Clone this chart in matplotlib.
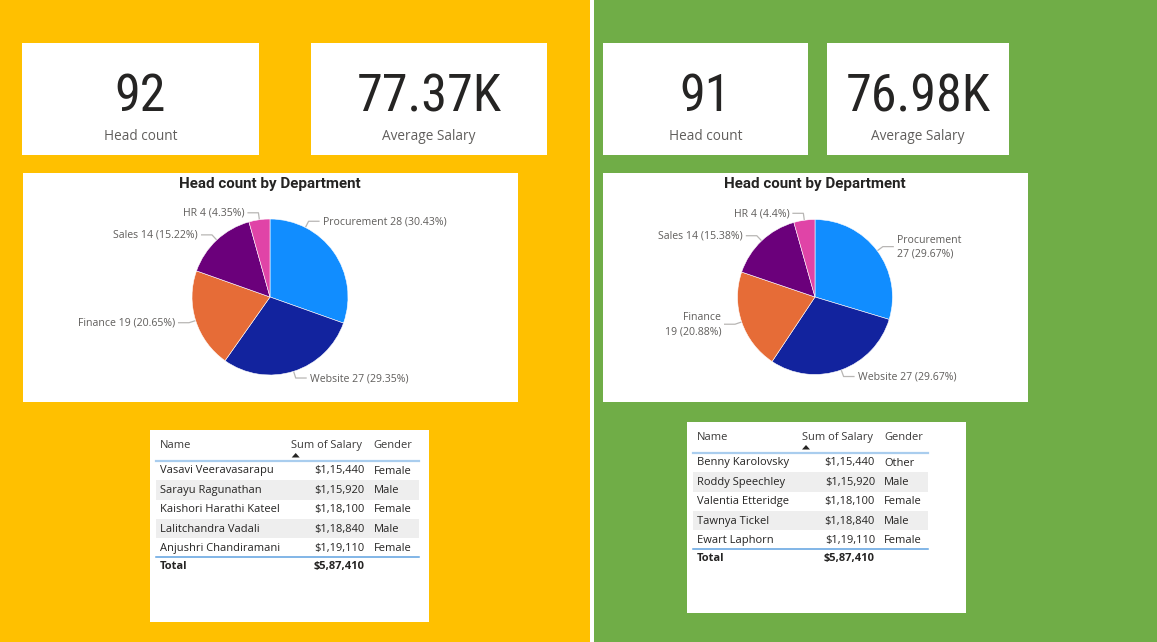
import matplotlib
matplotlib.use('Agg')
import matplotlib.pyplot as plt
from matplotlib import font_manager
from matplotlib.patches import Rectangle, Polygon
import numpy as np

W, H = 1157, 642

# ---------------- data ----------------
departments = ['Procurement', 'Website', 'Finance', 'Sales', 'HR']
dept_colors = ['#118DFF', '#12239E', '#E66C37', '#6B007B', '#E044A7']
left_counts = [28, 27, 19, 14, 4]
right_counts = [27, 27, 19, 14, 4]

left_head_count = 92
right_head_count = 91
left_avg_salary = '77.37K'
right_avg_salary = '76.98K'

left_names = ['Vasavi Veeravasarapu', 'Sarayu Ragunathan', 'Kaishori Harathi Kateel',
              'Lalitchandra Vadali', 'Anjushri Chandiramani']
left_salaries = [115440, 115920, 118100, 118840, 119110]
left_genders = ['Female', 'Male', 'Female', 'Male', 'Female']

right_names = ['Benny Karolovsky', 'Roddy Speechley', 'Valentia Etteridge',
               'Tawnya Tickel', 'Ewart Laphorn']
right_salaries = [115440, 115920, 118100, 118840, 119110]
right_genders = ['Other', 'Male', 'Female', 'Male', 'Female']

table_headers = ['Name', 'Sum of Salary', 'Gender']

# ---------------- fonts ----------------
available = {f.name for f in font_manager.fontManager.ttflist}


def pick(cands):
    for c in cands:
        if c in available:
            return c
    return 'DejaVu Sans'


UI_FONT = pick(['Segoe UI', 'Open Sans', 'Noto Sans', 'DejaVu Sans'])
DIN_FONT = pick(['DIN', 'Roboto Condensed', 'Liberation Sans Narrow', 'Roboto', 'DejaVu Sans'])
TITLE_FONT = pick(['Roboto', 'DejaVu Sans'])

YELLOW = '#FFC000'
GREEN = '#70AD47'
DARK = '#252423'
GREY = '#605E5C'


def inr(v):
    s = str(v)
    last3, rest = s[-3:], s[:-3]
    groups = []
    while len(rest) > 2:
        groups.insert(0, rest[-2:])
        rest = rest[:-2]
    if rest:
        groups.insert(0, rest)
    return '$' + ','.join(groups + [last3])


def pct_text(v, total):
    p = f"{100 * v / total:.2f}".rstrip('0').rstrip('.')
    return p


fig = plt.figure(figsize=(W / 100, H / 100), dpi=100)
fig.patch.set_facecolor('white')
ax = fig.add_axes([0, 0, 1, 1])
ax.set_xlim(0, W)
ax.set_ylim(H, 0)
ax.axis('off')

# backgrounds
ax.add_patch(Rectangle((0, 0), 590, H, color=YELLOW, lw=0))
ax.add_patch(Rectangle((594, 0), W - 594, H, color=GREEN, lw=0))


def card(x0, y0, x1, y1):
    ax.add_patch(Rectangle((x0, y0), x1 - x0, y1 - y0, facecolor='white', lw=0))


def kpi(x0, y0, x1, y1, value, label):
    card(x0, y0, x1, y1)
    cx = (x0 + x1) / 2
    ax.text(cx, y0 + 54, str(value), ha='center', va='center', fontsize=37.5,
            family=DIN_FONT, color=DARK)
    ax.text(cx, y0 + 94, label, ha='center', va='center', fontsize=9.8,
            family=UI_FONT, color=GREY)


def pie_block(box, cx, cy, r, counts, wrap, angle_override):
    x0, y0, x1, y1 = box
    card(x0, y0, x1, y1)
    ax.text(cx, y0 + 11, 'Head count by Department', ha='center',
            va='center', fontsize=10.9, fontweight='bold', family=TITLE_FONT, color=DARK)
    pad = 3
    pax = fig.add_axes([(cx - r - pad) / W, 1 - (cy + r + pad) / H,
                        2 * (r + pad) / W, 2 * (r + pad) / H])
    pax.pie(counts, colors=dept_colors, startangle=90, counterclock=False, radius=1,
            wedgeprops=dict(edgecolor='white', linewidth=0.4))
    lim = (r + pad) / r
    pax.set_xlim(-lim, lim)
    pax.set_ylim(-lim, lim)
    pax.set_aspect('equal')
    pax.axis('off')
    total = sum(counts)
    cum = 0
    for i, v in enumerate(counts):
        start = 90 - 360 * cum / total
        mid = start - 360 * v / total / 2
        cum += v
        a = angle_override[i] if angle_override[i] is not None else mid
        ar = np.deg2rad(a)
        ux, uy = np.cos(ar), -np.sin(ar)
        p0 = (cx + r * ux, cy + r * uy)
        p1 = (p0[0] + 7 * ux, p0[1] + 7 * uy)
        side = 1 if ux >= 0 else -1
        p2 = (p1[0] + side * 11, p1[1])
        ax.plot([p0[0], p1[0], p2[0]], [p0[1], p1[1], p2[1]], color='#B8B6B4', lw=0.9,
                solid_capstyle='butt')
        pt = pct_text(v, total)
        if wrap[i]:
            txt = f"{departments[i]}\n{v} ({pt}%)"
        else:
            txt = f"{departments[i]} {v} ({pt}%)"
        ax.text(p2[0] + side * 3, p2[1] + 0.5, txt, ha='left' if side > 0 else 'right',
                va='center', fontsize=7.6, family=UI_FONT, color=GREY,
                linespacing=1.4, multialignment='left' if side > 0 else 'right')


def table_block(box, names, salaries, genders, val_right_off, line_end_off):
    x0, y0, x1, y1 = box
    card(x0, y0, x1, y1)
    name_x = x0 + 10
    val_right = x0 + val_right_off
    gender_x = val_right + 9
    lx0, lx1 = x0 + 5.5, x0 + line_end_off
    fs = 8
    ax.text(name_x, y0 + 15.3, table_headers[0], ha='left', va='center', fontsize=fs,
            family=UI_FONT, color='#3b3a39')
    hx = val_right - 73.5
    ax.text(hx, y0 + 15.3, table_headers[1], ha='left', va='center', fontsize=fs,
            family=UI_FONT, color='#3b3a39')
    ax.text(gender_x, y0 + 15.3, table_headers[2], ha='left', va='center', fontsize=fs,
            family=UI_FONT, color='#3b3a39')
    ax.add_patch(Polygon([(hx + 0.5, y0 + 27.5), (hx + 8.5, y0 + 27.5), (hx + 4.5, y0 + 23)],
                         closed=True, facecolor='#252423', lw=0))
    ax.plot([lx0, lx1], [y0 + 30.8, y0 + 30.8], color='#A9CDEE', lw=1.6)
    step = 19.35
    for i, (n, s, g) in enumerate(zip(names, salaries, genders)):
        yc = y0 + 41 + i * step
        if i % 2 == 1:
            ax.add_patch(Rectangle((lx0, yc - 10), lx1 - lx0, step, facecolor='#EEEEEE', lw=0))
        ax.text(name_x, yc, n, ha='left', va='center', fontsize=fs, family=UI_FONT, color=DARK)
        ax.text(val_right, yc, inr(s), ha='right', va='center', fontsize=fs, family=UI_FONT,
                color=DARK)
        ax.text(gender_x, yc, g, ha='left', va='center', fontsize=fs, family=UI_FONT, color=DARK)
    ax.plot([lx0, lx1], [y0 + 126.8, y0 + 126.8], color='#5FA2E0', lw=1.1)
    ax.text(name_x, y0 + 136.7, 'Total', ha='left', va='center', fontsize=fs,
            fontweight='bold', family=UI_FONT, color=DARK)
    ax.text(val_right, y0 + 136.7, inr(sum(salaries)), ha='right', va='center', fontsize=fs,
            fontweight='bold', family=UI_FONT, color=DARK)


# ---------------- left panel ----------------
kpi(22, 43, 259, 155, left_head_count, 'Head count')
kpi(311, 43, 547, 155, left_avg_salary, 'Average Salary')
pie_block((22.5, 173, 518, 402), 270, 297, 78, left_counts,
          [False] * 5, [63, None, None, None, None])
table_block((150, 430, 429, 622), left_names, left_salaries, left_genders, 214.7, 268.7)

# ---------------- right panel ----------------
kpi(603, 43, 808, 155, right_head_count, 'Head count')
kpi(827, 43, 1009, 155, right_avg_salary, 'Average Salary')
pie_block((603, 173, 1027.5, 402), 815, 297, 77.5, right_counts,
          [True, False, True, False, False], [None] * 5)
table_block((687, 422, 966, 613), right_names, right_salaries, right_genders, 188, 240.7)

fig.savefig('out.png', dpi=100, facecolor='white')
